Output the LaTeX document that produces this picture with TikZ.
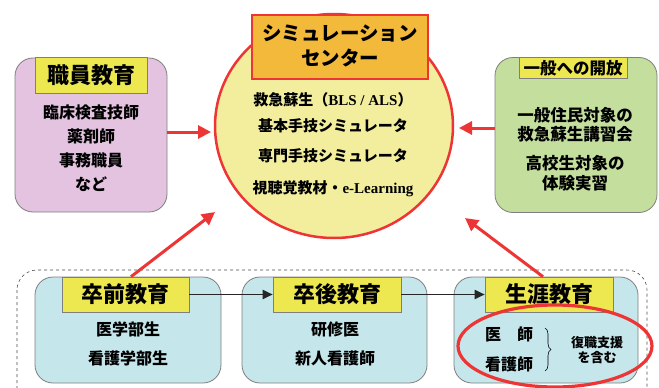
\documentclass[tikz,border=0pt]{standalone}
\usepackage{fontspec}
\setmainfont{Noto Sans CJK JP}
\newfontfamily\lat{Liberation Serif}
\usetikzlibrary{shapes.geometric,arrows.meta,decorations.pathreplacing}
\definecolor{cred}{HTML}{EE3535}
\definecolor{corange}{HTML}{F2B93A}
\definecolor{cyel}{HTML}{EDE84F}
\definecolor{ccirc}{HTML}{F2EE9E}
\definecolor{cpink}{HTML}{E3C3DF}
\definecolor{cgreen}{HTML}{C4DE9E}
\definecolor{cblue}{HTML}{C5E6EB}
\definecolor{cgray}{HTML}{7F7F7F}
\tikzset{
  panel/.style={draw=cgray, line width=0.8pt, rounded corners=18pt},
  titlebox/.style={draw=cgray, line width=0.6pt, fill=cyel, inner sep=0pt},
  txt/.style={font=\bfseries\fontsize{16}{18}\selectfont, inner sep=0pt},
  ctxt/.style={font=\bfseries\fontsize{15}{17}\selectfont, inner sep=0pt},
  gtxt/.style={font=\bfseries\fontsize{16.5}{18}\selectfont, inner sep=0pt},
  ttl/.style={font=\bfseries\fontsize{22}{24}\selectfont, inner sep=0pt},
  ttlsmall/.style={font=\bfseries\fontsize{16.5}{18}\selectfont, inner sep=0pt},
  redarrow/.style={draw=cred, line width=3pt, -{Triangle[length=13pt,width=13pt]}},
  blkarrow/.style={draw=black!85, line width=1.8pt, -{Triangle[length=10pt,width=9pt]}},
}
\begin{document}
\begin{tikzpicture}[x=1pt,y=-1pt]
\useasboundingbox (0,0) rectangle (659,388);
% dashed group
\draw[dashed, draw=black!70, line width=0.6pt, rounded corners=20pt] (17,270) rectangle (647,410);
% central circle
\node[ellipse, draw=cred, line width=2.5pt, fill=ccirc, minimum width=238pt, minimum height=224pt, inner sep=0pt] (circ) at (334,126) {};
\node[draw=cred, line width=2pt, fill=corange, minimum width=176pt, minimum height=64pt, inner sep=0pt] (sim) at (340,47) {};
\node[font=\bfseries\fontsize{19.5}{25}\selectfont, align=center, inner sep=0pt] (simt) at (340,46) {シミュレーション\\センター};
\node[ctxt] (c1) at (333,100) {救急蘇生（{\lat\bfseries BLS / ALS}）};
\node[ctxt] (c2) at (333,126) {基本手技シミュレータ};
\node[ctxt] (c3) at (333,156) {専門手技シミュレータ};
\node[ctxt] (c4) at (333,189) {視聴覚教材・{\lat\bfseries e-Learning}};
% left panel
\node[panel, fill=cpink, minimum width=152pt, minimum height=154pt] (staff) at (91,135) {};
\node[titlebox, minimum width=112pt, minimum height=36pt] (staffT) at (91,75) {};
\node[ttl] at (staffT) {職員教育};
\node[txt] (s1) at (91,112) {臨床検査技師};
\node[txt] (s2) at (91,136) {薬剤師};
\node[txt] (s3) at (91,160) {事務職員};
\node[txt] (s4) at (91,184) {など};
% right panel
\node[panel, fill=cgreen, minimum width=162pt, minimum height=155pt] (pub) at (576,135) {};
\node[titlebox, minimum width=108pt, minimum height=21pt] (pubT) at (573,68) {};
\node[ttlsmall] at (pubT) {一般への開放};
\node[gtxt] (p1) at (575,115) {一般住民対象の};
\node[gtxt] (p2) at (575,134) {救急蘇生講習会};
\node[gtxt] (p3) at (575,163) {高校生対象の};
\node[gtxt] (p4) at (575,183) {体験実習};
% bottom panels
\node[panel, fill=cblue, minimum width=186pt, minimum height=106pt] (pre) at (128,330) {};
\node[titlebox, minimum width=127pt, minimum height=35pt] (preT) at (125.5,294.5) {};
\node[ttl] at (preT) {卒前教育};
\node[txt] (b1) at (128,329) {医学部生};
\node[txt] (b2) at (128,358) {看護学部生};
\node[panel, fill=cblue, minimum width=185pt, minimum height=106pt] (post) at (334.5,330) {};
\node[titlebox, minimum width=128pt, minimum height=35pt] (postT) at (337,294.5) {};
\node[ttl] at (postT) {卒後教育};
\node[txt] (d1) at (335,329) {研修医};
\node[txt] (d2) at (335,358) {新人看護師};
\node[panel, fill=cblue, minimum width=184pt, minimum height=106pt] (life) at (546,330) {};
\node[titlebox, minimum width=128pt, minimum height=35pt] (lifeT) at (549,294.5) {};
\node[ttl] at (lifeT) {生涯教育};
\node[txt] (l1) at (509,334) {医\hspace{1em}師};
\node[txt] (l2) at (509,364) {看護師};
\coordinate (brA) at (545,328);
\coordinate (brB) at (545,371);
\draw[decorate, decoration={brace, amplitude=6pt}, line width=0.6pt] (brA) -- (brB);
\node[font=\bfseries\fontsize{13}{15}\selectfont, align=center, inner sep=0pt] (l3) at (597,350) {復職支援\\を含む};
\node[ellipse, draw=cred, line width=3.2pt, minimum width=194pt, minimum height=82pt, inner sep=0pt] (ring) at (555,346) {};
% arrows
\coordinate (tipL) at (211,132);
\coordinate (tipR) at (459,128);
\coordinate (tipBL) at (215,212);
\coordinate (tipBR) at (465,218);
\draw[redarrow] (staff.east |- tipL) -- (tipL);
\draw[redarrow] (pub.west |- tipR) -- (tipR);
\draw[redarrow] ([xshift=5.5pt]preT.north) -- (tipBL);
\draw[redarrow] ([xshift=-6pt]lifeT.north) -- (tipBR);
\draw[blkarrow] (preT.east) -- (postT.west);
\draw[blkarrow] (postT.east) -- (lifeT.west);
\end{tikzpicture}
\end{document}
